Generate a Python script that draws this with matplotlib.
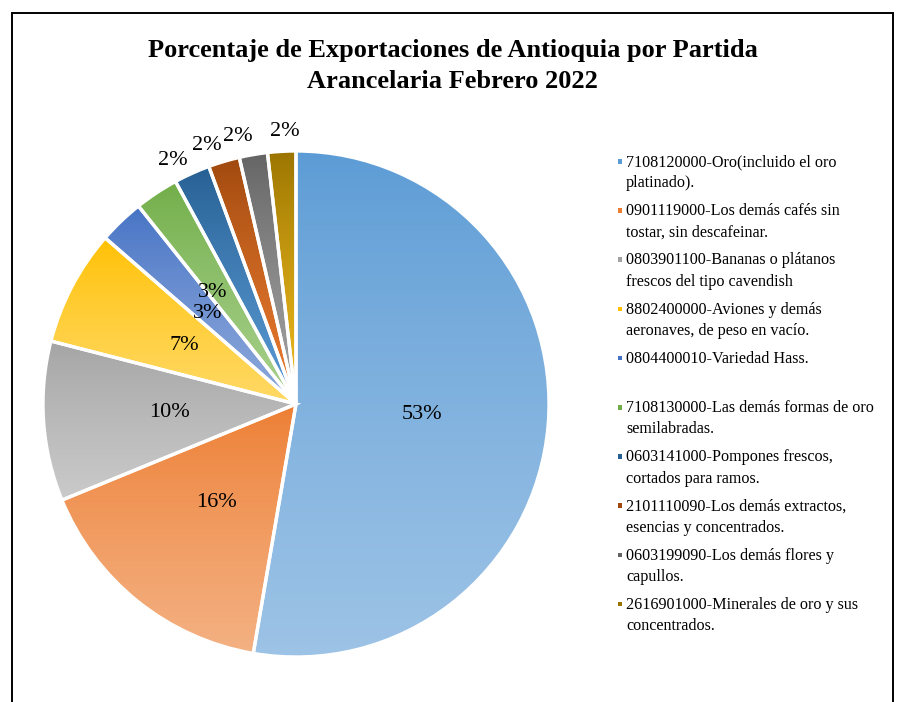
import numpy as np
import matplotlib.pyplot as plt
from matplotlib.patches import Rectangle
from matplotlib.colors import to_rgb

# datos (porcentaje de exportaciones por partida arancelaria)
labels = [
    "7108120000-Oro(incluido el oro\nplatinado).",
    "0901119000-Los demás cafés sin\ntostar, sin descafeinar.",
    "0803901100-Bananas o plátanos\nfrescos del tipo cavendish",
    "8802400000-Aviones y demás\naeronaves, de peso en vacío.",
    "0804400010-Variedad Hass.",
    "7108130000-Las demás formas de oro\nsemilabradas.",
    "0603141000-Pompones frescos,\ncortados para ramos.",
    "2101110090-Los demás extractos,\nesencias y concentrados.",
    "0603199090-Los demás flores y\ncapullos.",
    "2616901000-Minerales de oro y sus\nconcentrados.",
]
values = [52.7, 16.1, 10.2, 7.4, 2.9, 2.8, 2.3, 2.0, 1.8, 1.8]

# colores estilo excel: arriba -> abajo (degradado)
top_colors = ["#5B9BD5", "#ED7D31", "#A3A3A3", "#FFC000", "#4472C4",
              "#70AD47", "#255E91", "#9E480E", "#636363", "#997300"]
bottom_colors = ["#9DC3E6", "#F4B183", "#CACACA", "#FFD966", "#8FAADC",
                 "#A9D18E", "#5B9BD5", "#ED7D31", "#A5A5A5", "#F0BC20"]

plt.rcParams['font.family'] = ['Liberation Serif', 'DejaVu Serif']

W, H = 898, 702
fig = plt.figure(figsize=(W / 100, H / 100), dpi=100)

# marco
fig.add_artist(Rectangle((11.5 / W, -0.05), (893 - 11.5) / W, (H - 12.5) / H + 0.05,
                         transform=fig.transFigure, fill=False, lw=1.4, ec="black"))

# pie: centro (296, 404) px, radio 253 px
cx, cy, R = 296, 404, 253
lim = 1.05
side = 2 * lim * R
ax = fig.add_axes([(cx - lim * R) / W, (H - cy - lim * R) / H, side / W, side / H])

wedges, _ = ax.pie(values, startangle=90, counterclock=False, radius=1,
                   wedgeprops=dict(edgecolor="white", linewidth=2.4, facecolor="none"))

# relleno con degradado vertical por porcion
for w, c0, c1 in zip(wedges, top_colors, bottom_colors):
    w.set_zorder(3)
    ext = w.get_path().get_extents()
    t = np.linspace(0, 1, 256)[:, None, None]
    t = t ** 0.8
    grad = (1 - t) * np.array(to_rgb(c0)) + t * np.array(to_rgb(c1))
    im = ax.imshow(grad, extent=[ext.x0, ext.x1, ext.y0, ext.y1], origin="upper",
                   aspect="auto", interpolation="bilinear", zorder=2)
    im.set_clip_path(w)

ax.set_xlim(-lim, lim)
ax.set_ylim(-lim, lim)
ax.set_aspect("equal")
ax.axis("off")

# etiquetas de porcentaje
for i, (w, v) in enumerate(zip(wedges, values)):
    mid = (w.theta1 + w.theta2) / 2
    r = 0.5
    if v < 2.5:
        r = 1.08
        mid += 2.5 if i < 9 else -0.8
    elif v < 2.85:
        r = 0.55
        mid += 3.5
    else:
        mid += 0.5 if i == 4 else 0
    ang = np.deg2rad(mid)
    ax.text(r * np.cos(ang), r * np.sin(ang), f"{v:.0f}%", ha="center", va="center",
            fontsize=16, color="black", zorder=5)

# titulo
fig.text(452.5 / W, 1 - 66 / H, "Porcentaje de Exportaciones de Antioquia por Partida\nArancelaria Febrero 2022",
         ha="center", va="center", fontsize=19, fontweight="bold", linespacing=1.42)

# leyenda
for i, (lab, col) in enumerate(zip(labels, top_colors)):
    y = 161 + 49.2 * i
    fig.add_artist(Rectangle((617.5 / W, 1 - (y + 2.5) / H), 4.5 / W, 4.5 / H,
                             transform=fig.transFigure, color=col, lw=0))
    fig.text(626 / W, 1 - (y - 7) / H, lab, ha="left", va="top", fontsize=11.6,
             linespacing=1.45)

fig.savefig("out.png", dpi=100)
